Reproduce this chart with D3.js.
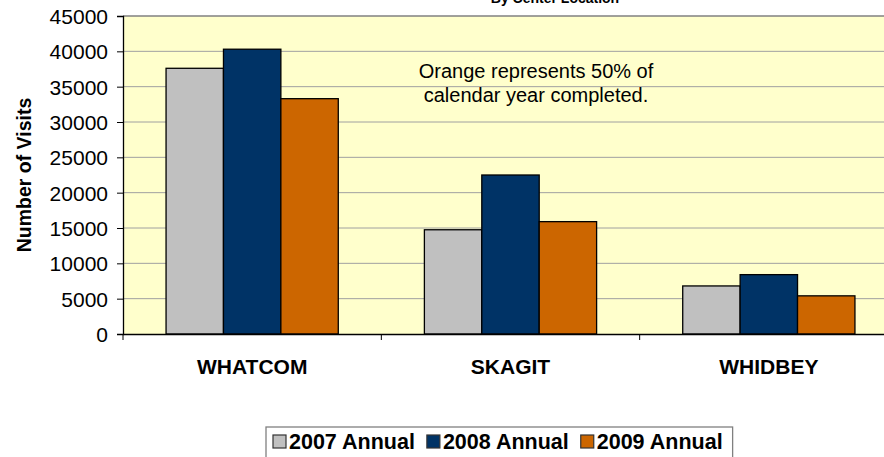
<html>
<script src='https://d3js.org/d3.v7.min.js'></script>
<style>
body {margin:0; background:#fff;}
text {font-family: Arial, 'Liberation Sans', sans-serif;}
</style>
<body onload='init()'>
<svg width=884 height=457></svg>
<script>
// data
var centers = ['WHATCOM', 'SKAGIT', 'WHIDBEY'];
var seriesNames = ['2007 Annual', '2008 Annual', '2009 Annual'];
var v2007 = [37600, 14750, 6800];
var v2008 = [40300, 22500, 8400];
var v2009 = [33300, 15900, 5400];
var yTicks = [0, 5000, 10000, 15000, 20000, 25000, 30000, 35000, 40000, 45000];
var colors = ['#c0c0c0', '#003366', '#cc6600'];

function init() {
var svg = d3.select('svg');

// plot area
leftmargin = 123;
topmargin = 16;
w = 775;
h = 318;

var series = [v2007, v2008, v2009];
var rows = [];
centers.forEach(function(c, i) {
	series.forEach(function(s, j) {
		rows.push({center: c, series: seriesNames[j], value: s[i], k: j});
	});
});

var x = d3.scaleBand().domain(centers).range([0, w]);
var xs = d3.scaleBand().domain(seriesNames).range([0, x.bandwidth()]).paddingInner(0).paddingOuter(0.75);
var y = d3.scaleLinear().domain([0, 45000]).range([h, 0]);

var g = svg.append('g').attr('transform', 'translate(' + leftmargin + ',' + topmargin + ')');

g.append('rect')
	.attr('width', w).attr('height', h)
	.attr('fill', '#ffffcc');

// gridlines
g.append('g').selectAll('line')
	.data(yTicks.filter(function(d) { return d > 0; }))
	.enter().append('line')
	.attr('x1', 0).attr('x2', w)
	.attr('y1', function(d) { return y(d); })
	.attr('y2', function(d) { return y(d); })
	.attr('stroke', function(d) { return d == 45000 ? '#808080' : '#a0a0a0'; })
	.attr('stroke-width', function(d) { return d == 45000 ? 1.5 : 1; });

// bars
g.append('g').selectAll('rect')
	.data(rows)
	.enter().append('rect')
	.attr('x', function(d) { return x(d.center) + xs(d.series); })
	.attr('y', function(d) { return y(d.value); })
	.attr('width', xs.bandwidth())
	.attr('height', function(d) { return h - y(d.value); })
	.attr('fill', function(d) { return colors[d.k]; })
	.attr('stroke', '#000')
	.attr('stroke-width', 1.3);

// y axis
var yAxis = g.append('g')
	.call(d3.axisLeft(y).tickValues(yTicks).tickFormat(d3.format('d')).tickSizeOuter(0).tickSize(6).tickPadding(9));
yAxis.select('.domain').attr('stroke', '#000').attr('stroke-width', 1.3);
yAxis.selectAll('text').attr('font-size', '21px').attr('fill', '#000')
	.attr('font-family', 'Arial, Liberation Sans, sans-serif').attr('dy', '0.36em');

// x axis
var xAxis = g.append('g').attr('transform', 'translate(0,' + h + ')')
	.call(d3.axisBottom(x).tickSize(0).tickPadding(25).tickSizeOuter(0));
xAxis.select('.domain').attr('stroke', '#000').attr('stroke-width', 1.3);
xAxis.selectAll('text').attr('font-size', '21px').attr('font-weight', 'bold').attr('fill', '#000')
	.attr('font-family', 'Arial, Liberation Sans, sans-serif');
xAxis.selectAll('.edge')
	.data(d3.range(centers.length + 1))
	.enter().append('line')
	.attr('x1', function(d) { return d * x.step(); })
	.attr('x2', function(d) { return d * x.step(); })
	.attr('y1', 0).attr('y2', 6)
	.attr('stroke', '#000');

// y title
svg.append('text')
	.attr('transform', 'translate(31,175) rotate(-90)')
	.attr('text-anchor', 'middle')
	.attr('font-size', '19.5px').attr('font-weight', 'bold')
	.text('Number of Visits');

// title (cut off at top, as in the reference)
svg.append('text')
	.attr('x', 555).attr('y', 3)
	.attr('text-anchor', 'middle')
	.attr('font-size', '14px').attr('font-weight', 'bold')
	.text('By Center Location');

// note
var note = svg.append('text').attr('text-anchor', 'middle').attr('font-size', '20px');
note.append('tspan').attr('x', 536).attr('y', 78).text('Orange represents 50% of');
note.append('tspan').attr('x', 536).attr('y', 102).text('calendar year completed.');

// legend
var lg = svg.append('g').attr('transform', 'translate(266,427)');
var box = lg.append('rect')
	.attr('x', 0).attr('y', 0).attr('height', 40)
	.attr('fill', '#fff').attr('stroke', '#808080').attr('stroke-width', 1.3);
var cx = 7;
seriesNames.forEach(function(s, i) {
	lg.append('rect')
		.attr('x', cx).attr('y', 8).attr('width', 13).attr('height', 13)
		.attr('fill', colors[i]).attr('stroke', '#333').attr('stroke-width', 1.2);
	var t = lg.append('text')
		.attr('x', cx + 16).attr('y', 22)
		.attr('font-size', '21.5px').attr('font-weight', 'bold')
		.text(s);
	cx = cx + 16 + t.node().getComputedTextLength() + 12;
});
box.attr('width', cx - 2);
}
</script>
</body>
</html>
